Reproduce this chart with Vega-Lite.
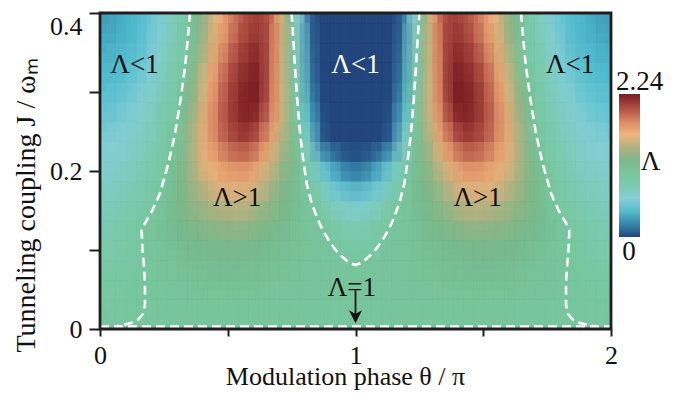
{
"$schema": "https://vega.github.io/schema/vega-lite/v6.json",
"width": 511, "height": 316,
"autosize": {"type": "none"},
"padding": {"left": 100, "top": 13, "right": 68, "bottom": 65},
"background": "white",
"config": {"font": "Liberation Serif", "view": {"stroke": null},
 "axis": {"grid": false, "domain": false, "zindex": 1, "labelColor": "#111", "titleColor": "#111", "titleFontWeight": "normal", "tickWidth": 2, "tickColor": "#1e1e1e", "labelFlush": false, "labelOverlap": false, "labelFontSize": 26, "labelFont": "Liberation Serif", "titleFont": "Liberation Serif"}},
"datasets": {"grid": [
{"t":0.02,"j":0.3875,"v":0.28},{"t":0.06,"j":0.3875,"v":0.30},{"t":0.1,"j":0.3875,"v":0.34},{"t":0.14,"j":0.3875,"v":0.39},{"t":0.18,"j":0.3875,"v":0.47},{"t":0.22,"j":0.3875,"v":0.56},{"t":0.26,"j":0.3875,"v":0.67},{"t":0.3,"j":0.3875,"v":0.80},{"t":0.34,"j":0.3875,"v":0.95},{"t":0.38,"j":0.3875,"v":1.17},{"t":0.42,"j":0.3875,"v":1.40},{"t":0.46,"j":0.3875,"v":1.60},{"t":0.5,"j":0.3875,"v":1.79},{"t":0.54,"j":0.3875,"v":1.94},{"t":0.58,"j":0.3875,"v":2.04},{"t":0.62,"j":0.3875,"v":2.09},{"t":0.66,"j":0.3875,"v":1.99},{"t":0.7,"j":0.3875,"v":1.66},{"t":0.74,"j":0.3875,"v":1.17},{"t":0.78,"j":0.3875,"v":0.60},{"t":0.82,"j":0.3875,"v":0.12},{"t":0.86,"j":0.3875,"v":0},{"t":0.9,"j":0.3875,"v":0},{"t":0.94,"j":0.3875,"v":0},{"t":0.98,"j":0.3875,"v":0},
{"t":1.02,"j":0.3875,"v":0},{"t":1.06,"j":0.3875,"v":0},{"t":1.1,"j":0.3875,"v":0},{"t":1.14,"j":0.3875,"v":0},{"t":1.18,"j":0.3875,"v":0.12},{"t":1.22,"j":0.3875,"v":0.60},{"t":1.26,"j":0.3875,"v":1.17},{"t":1.3,"j":0.3875,"v":1.66},{"t":1.34,"j":0.3875,"v":1.99},{"t":1.38,"j":0.3875,"v":2.09},{"t":1.42,"j":0.3875,"v":2.04},{"t":1.46,"j":0.3875,"v":1.94},{"t":1.5,"j":0.3875,"v":1.79},{"t":1.54,"j":0.3875,"v":1.60},{"t":1.58,"j":0.3875,"v":1.40},{"t":1.62,"j":0.3875,"v":1.17},{"t":1.66,"j":0.3875,"v":0.95},{"t":1.7,"j":0.3875,"v":0.80},{"t":1.74,"j":0.3875,"v":0.67},{"t":1.78,"j":0.3875,"v":0.56},{"t":1.82,"j":0.3875,"v":0.47},{"t":1.86,"j":0.3875,"v":0.39},{"t":1.9,"j":0.3875,"v":0.34},{"t":1.94,"j":0.3875,"v":0.30},{"t":1.98,"j":0.3875,"v":0.28},
{"t":0.02,"j":0.3625,"v":0.32},{"t":0.06,"j":0.3625,"v":0.34},{"t":0.1,"j":0.3625,"v":0.38},{"t":0.14,"j":0.3625,"v":0.43},{"t":0.18,"j":0.3625,"v":0.50},{"t":0.22,"j":0.3625,"v":0.60},{"t":0.26,"j":0.3625,"v":0.71},{"t":0.3,"j":0.3625,"v":0.83},{"t":0.34,"j":0.3625,"v":0.98},{"t":0.38,"j":0.3625,"v":1.22},{"t":0.42,"j":0.3625,"v":1.46},{"t":0.46,"j":0.3625,"v":1.67},{"t":0.5,"j":0.3625,"v":1.86},{"t":0.54,"j":0.3625,"v":2.01},{"t":0.58,"j":0.3625,"v":2.10},{"t":0.62,"j":0.3625,"v":2.15},{"t":0.66,"j":0.3625,"v":1.98},{"t":0.7,"j":0.3625,"v":1.63},{"t":0.74,"j":0.3625,"v":1.17},{"t":0.78,"j":0.3625,"v":0.62},{"t":0.82,"j":0.3625,"v":0.15},{"t":0.86,"j":0.3625,"v":0},{"t":0.9,"j":0.3625,"v":0},{"t":0.94,"j":0.3625,"v":0},{"t":0.98,"j":0.3625,"v":0},
{"t":1.02,"j":0.3625,"v":0},{"t":1.06,"j":0.3625,"v":0},{"t":1.1,"j":0.3625,"v":0},{"t":1.14,"j":0.3625,"v":0},{"t":1.18,"j":0.3625,"v":0.15},{"t":1.22,"j":0.3625,"v":0.62},{"t":1.26,"j":0.3625,"v":1.17},{"t":1.3,"j":0.3625,"v":1.63},{"t":1.34,"j":0.3625,"v":1.98},{"t":1.38,"j":0.3625,"v":2.15},{"t":1.42,"j":0.3625,"v":2.10},{"t":1.46,"j":0.3625,"v":2.01},{"t":1.5,"j":0.3625,"v":1.86},{"t":1.54,"j":0.3625,"v":1.67},{"t":1.58,"j":0.3625,"v":1.46},{"t":1.62,"j":0.3625,"v":1.22},{"t":1.66,"j":0.3625,"v":0.98},{"t":1.7,"j":0.3625,"v":0.83},{"t":1.74,"j":0.3625,"v":0.71},{"t":1.78,"j":0.3625,"v":0.60},{"t":1.82,"j":0.3625,"v":0.50},{"t":1.86,"j":0.3625,"v":0.43},{"t":1.9,"j":0.3625,"v":0.38},{"t":1.94,"j":0.3625,"v":0.34},{"t":1.98,"j":0.3625,"v":0.32},
{"t":0.02,"j":0.3375,"v":0.36},{"t":0.06,"j":0.3375,"v":0.38},{"t":0.1,"j":0.3375,"v":0.42},{"t":0.14,"j":0.3375,"v":0.47},{"t":0.18,"j":0.3375,"v":0.54},{"t":0.22,"j":0.3375,"v":0.63},{"t":0.26,"j":0.3375,"v":0.74},{"t":0.3,"j":0.3375,"v":0.86},{"t":0.34,"j":0.3375,"v":1.00},{"t":0.38,"j":0.3375,"v":1.28},{"t":0.42,"j":0.3375,"v":1.53},{"t":0.46,"j":0.3375,"v":1.76},{"t":0.5,"j":0.3375,"v":1.95},{"t":0.54,"j":0.3375,"v":2.08},{"t":0.58,"j":0.3375,"v":2.16},{"t":0.62,"j":0.3375,"v":2.20},{"t":0.66,"j":0.3375,"v":1.96},{"t":0.7,"j":0.3375,"v":1.64},{"t":0.74,"j":0.3375,"v":1.20},{"t":0.78,"j":0.3375,"v":0.68},{"t":0.82,"j":0.3375,"v":0.18},{"t":0.86,"j":0.3375,"v":0},{"t":0.9,"j":0.3375,"v":0},{"t":0.94,"j":0.3375,"v":0},{"t":0.98,"j":0.3375,"v":0},
{"t":1.02,"j":0.3375,"v":0},{"t":1.06,"j":0.3375,"v":0},{"t":1.1,"j":0.3375,"v":0},{"t":1.14,"j":0.3375,"v":0},{"t":1.18,"j":0.3375,"v":0.18},{"t":1.22,"j":0.3375,"v":0.68},{"t":1.26,"j":0.3375,"v":1.20},{"t":1.3,"j":0.3375,"v":1.64},{"t":1.34,"j":0.3375,"v":1.96},{"t":1.38,"j":0.3375,"v":2.20},{"t":1.42,"j":0.3375,"v":2.16},{"t":1.46,"j":0.3375,"v":2.08},{"t":1.5,"j":0.3375,"v":1.95},{"t":1.54,"j":0.3375,"v":1.76},{"t":1.58,"j":0.3375,"v":1.53},{"t":1.62,"j":0.3375,"v":1.28},{"t":1.66,"j":0.3375,"v":1.00},{"t":1.7,"j":0.3375,"v":0.86},{"t":1.74,"j":0.3375,"v":0.74},{"t":1.78,"j":0.3375,"v":0.63},{"t":1.82,"j":0.3375,"v":0.54},{"t":1.86,"j":0.3375,"v":0.47},{"t":1.9,"j":0.3375,"v":0.42},{"t":1.94,"j":0.3375,"v":0.38},{"t":1.98,"j":0.3375,"v":0.36},
{"t":0.02,"j":0.3125,"v":0.42},{"t":0.06,"j":0.3125,"v":0.44},{"t":0.1,"j":0.3125,"v":0.47},{"t":0.14,"j":0.3125,"v":0.53},{"t":0.18,"j":0.3125,"v":0.59},{"t":0.22,"j":0.3125,"v":0.68},{"t":0.26,"j":0.3125,"v":0.78},{"t":0.3,"j":0.3125,"v":0.91},{"t":0.34,"j":0.3125,"v":1.09},{"t":0.38,"j":0.3125,"v":1.35},{"t":0.42,"j":0.3125,"v":1.60},{"t":0.46,"j":0.3125,"v":1.83},{"t":0.5,"j":0.3125,"v":2.02},{"t":0.54,"j":0.3125,"v":2.14},{"t":0.58,"j":0.3125,"v":2.22},{"t":0.62,"j":0.3125,"v":2.23},{"t":0.66,"j":0.3125,"v":1.95},{"t":0.7,"j":0.3125,"v":1.62},{"t":0.74,"j":0.3125,"v":1.22},{"t":0.78,"j":0.3125,"v":0.72},{"t":0.82,"j":0.3125,"v":0.22},{"t":0.86,"j":0.3125,"v":0},{"t":0.9,"j":0.3125,"v":0},{"t":0.94,"j":0.3125,"v":0},{"t":0.98,"j":0.3125,"v":0},
{"t":1.02,"j":0.3125,"v":0},{"t":1.06,"j":0.3125,"v":0},{"t":1.1,"j":0.3125,"v":0},{"t":1.14,"j":0.3125,"v":0},{"t":1.18,"j":0.3125,"v":0.22},{"t":1.22,"j":0.3125,"v":0.72},{"t":1.26,"j":0.3125,"v":1.22},{"t":1.3,"j":0.3125,"v":1.62},{"t":1.34,"j":0.3125,"v":1.95},{"t":1.38,"j":0.3125,"v":2.23},{"t":1.42,"j":0.3125,"v":2.22},{"t":1.46,"j":0.3125,"v":2.14},{"t":1.5,"j":0.3125,"v":2.02},{"t":1.54,"j":0.3125,"v":1.83},{"t":1.58,"j":0.3125,"v":1.60},{"t":1.62,"j":0.3125,"v":1.35},{"t":1.66,"j":0.3125,"v":1.09},{"t":1.7,"j":0.3125,"v":0.91},{"t":1.74,"j":0.3125,"v":0.78},{"t":1.78,"j":0.3125,"v":0.68},{"t":1.82,"j":0.3125,"v":0.59},{"t":1.86,"j":0.3125,"v":0.53},{"t":1.9,"j":0.3125,"v":0.47},{"t":1.94,"j":0.3125,"v":0.44},{"t":1.98,"j":0.3125,"v":0.42},
{"t":0.02,"j":0.2875,"v":0.48},{"t":0.06,"j":0.2875,"v":0.50},{"t":0.1,"j":0.2875,"v":0.53},{"t":0.14,"j":0.2875,"v":0.58},{"t":0.18,"j":0.2875,"v":0.65},{"t":0.22,"j":0.2875,"v":0.73},{"t":0.26,"j":0.2875,"v":0.83},{"t":0.3,"j":0.2875,"v":0.95},{"t":0.34,"j":0.2875,"v":1.15},{"t":0.38,"j":0.2875,"v":1.41},{"t":0.42,"j":0.2875,"v":1.66},{"t":0.46,"j":0.2875,"v":1.87},{"t":0.5,"j":0.2875,"v":2.04},{"t":0.54,"j":0.2875,"v":2.17},{"t":0.58,"j":0.2875,"v":2.23},{"t":0.62,"j":0.2875,"v":2.22},{"t":0.66,"j":0.2875,"v":1.93},{"t":0.7,"j":0.2875,"v":1.62},{"t":0.74,"j":0.2875,"v":1.25},{"t":0.78,"j":0.2875,"v":0.80},{"t":0.82,"j":0.2875,"v":0.30},{"t":0.86,"j":0.2875,"v":0.02},{"t":0.9,"j":0.2875,"v":0},{"t":0.94,"j":0.2875,"v":0},{"t":0.98,"j":0.2875,"v":0},
{"t":1.02,"j":0.2875,"v":0},{"t":1.06,"j":0.2875,"v":0},{"t":1.1,"j":0.2875,"v":0},{"t":1.14,"j":0.2875,"v":0.02},{"t":1.18,"j":0.2875,"v":0.30},{"t":1.22,"j":0.2875,"v":0.80},{"t":1.26,"j":0.2875,"v":1.25},{"t":1.3,"j":0.2875,"v":1.62},{"t":1.34,"j":0.2875,"v":1.93},{"t":1.38,"j":0.2875,"v":2.22},{"t":1.42,"j":0.2875,"v":2.23},{"t":1.46,"j":0.2875,"v":2.17},{"t":1.5,"j":0.2875,"v":2.04},{"t":1.54,"j":0.2875,"v":1.87},{"t":1.58,"j":0.2875,"v":1.66},{"t":1.62,"j":0.2875,"v":1.41},{"t":1.66,"j":0.2875,"v":1.15},{"t":1.7,"j":0.2875,"v":0.95},{"t":1.74,"j":0.2875,"v":0.83},{"t":1.78,"j":0.2875,"v":0.73},{"t":1.82,"j":0.2875,"v":0.65},{"t":1.86,"j":0.2875,"v":0.58},{"t":1.9,"j":0.2875,"v":0.53},{"t":1.94,"j":0.2875,"v":0.50},{"t":1.98,"j":0.2875,"v":0.48},
{"t":0.02,"j":0.2625,"v":0.53},{"t":0.06,"j":0.2625,"v":0.55},{"t":0.1,"j":0.2625,"v":0.58},{"t":0.14,"j":0.2625,"v":0.63},{"t":0.18,"j":0.2625,"v":0.69},{"t":0.22,"j":0.2625,"v":0.77},{"t":0.26,"j":0.2625,"v":0.87},{"t":0.3,"j":0.2625,"v":0.98},{"t":0.34,"j":0.2625,"v":1.23},{"t":0.38,"j":0.2625,"v":1.48},{"t":0.42,"j":0.2625,"v":1.70},{"t":0.46,"j":0.2625,"v":1.90},{"t":0.5,"j":0.2625,"v":2.06},{"t":0.54,"j":0.2625,"v":2.15},{"t":0.58,"j":0.2625,"v":2.20},{"t":0.62,"j":0.2625,"v":2.08},{"t":0.66,"j":0.2625,"v":1.84},{"t":0.7,"j":0.2625,"v":1.56},{"t":0.74,"j":0.2625,"v":1.24},{"t":0.78,"j":0.2625,"v":0.85},{"t":0.82,"j":0.2625,"v":0.45},{"t":0.86,"j":0.2625,"v":0.08},{"t":0.9,"j":0.2625,"v":0},{"t":0.94,"j":0.2625,"v":0},{"t":0.98,"j":0.2625,"v":0},
{"t":1.02,"j":0.2625,"v":0},{"t":1.06,"j":0.2625,"v":0},{"t":1.1,"j":0.2625,"v":0},{"t":1.14,"j":0.2625,"v":0.08},{"t":1.18,"j":0.2625,"v":0.45},{"t":1.22,"j":0.2625,"v":0.85},{"t":1.26,"j":0.2625,"v":1.24},{"t":1.3,"j":0.2625,"v":1.56},{"t":1.34,"j":0.2625,"v":1.84},{"t":1.38,"j":0.2625,"v":2.08},{"t":1.42,"j":0.2625,"v":2.20},{"t":1.46,"j":0.2625,"v":2.15},{"t":1.5,"j":0.2625,"v":2.06},{"t":1.54,"j":0.2625,"v":1.90},{"t":1.58,"j":0.2625,"v":1.70},{"t":1.62,"j":0.2625,"v":1.48},{"t":1.66,"j":0.2625,"v":1.23},{"t":1.7,"j":0.2625,"v":0.98},{"t":1.74,"j":0.2625,"v":0.87},{"t":1.78,"j":0.2625,"v":0.77},{"t":1.82,"j":0.2625,"v":0.69},{"t":1.86,"j":0.2625,"v":0.63},{"t":1.9,"j":0.2625,"v":0.58},{"t":1.94,"j":0.2625,"v":0.55},{"t":1.98,"j":0.2625,"v":0.53},
{"t":0.02,"j":0.2375,"v":0.58},{"t":0.06,"j":0.2375,"v":0.60},{"t":0.1,"j":0.2375,"v":0.63},{"t":0.14,"j":0.2375,"v":0.68},{"t":0.18,"j":0.2375,"v":0.74},{"t":0.22,"j":0.2375,"v":0.82},{"t":0.26,"j":0.2375,"v":0.92},{"t":0.3,"j":0.2375,"v":1.05},{"t":0.34,"j":0.2375,"v":1.28},{"t":0.38,"j":0.2375,"v":1.49},{"t":0.42,"j":0.2375,"v":1.68},{"t":0.46,"j":0.2375,"v":1.85},{"t":0.5,"j":0.2375,"v":1.96},{"t":0.54,"j":0.2375,"v":2.03},{"t":0.58,"j":0.2375,"v":2.05},{"t":0.62,"j":0.2375,"v":1.90},{"t":0.66,"j":0.2375,"v":1.69},{"t":0.7,"j":0.2375,"v":1.47},{"t":0.74,"j":0.2375,"v":1.23},{"t":0.78,"j":0.2375,"v":0.98},{"t":0.82,"j":0.2375,"v":0.62},{"t":0.86,"j":0.2375,"v":0.12},{"t":0.9,"j":0.2375,"v":0},{"t":0.94,"j":0.2375,"v":0},{"t":0.98,"j":0.2375,"v":0},
{"t":1.02,"j":0.2375,"v":0},{"t":1.06,"j":0.2375,"v":0},{"t":1.1,"j":0.2375,"v":0},{"t":1.14,"j":0.2375,"v":0.12},{"t":1.18,"j":0.2375,"v":0.62},{"t":1.22,"j":0.2375,"v":0.98},{"t":1.26,"j":0.2375,"v":1.23},{"t":1.3,"j":0.2375,"v":1.47},{"t":1.34,"j":0.2375,"v":1.69},{"t":1.38,"j":0.2375,"v":1.90},{"t":1.42,"j":0.2375,"v":2.05},{"t":1.46,"j":0.2375,"v":2.03},{"t":1.5,"j":0.2375,"v":1.96},{"t":1.54,"j":0.2375,"v":1.85},{"t":1.58,"j":0.2375,"v":1.68},{"t":1.62,"j":0.2375,"v":1.49},{"t":1.66,"j":0.2375,"v":1.28},{"t":1.7,"j":0.2375,"v":1.05},{"t":1.74,"j":0.2375,"v":0.92},{"t":1.78,"j":0.2375,"v":0.82},{"t":1.82,"j":0.2375,"v":0.74},{"t":1.86,"j":0.2375,"v":0.68},{"t":1.9,"j":0.2375,"v":0.63},{"t":1.94,"j":0.2375,"v":0.60},{"t":1.98,"j":0.2375,"v":0.58},
{"t":0.02,"j":0.2125,"v":0.62},{"t":0.06,"j":0.2125,"v":0.64},{"t":0.1,"j":0.2125,"v":0.67},{"t":0.14,"j":0.2125,"v":0.72},{"t":0.18,"j":0.2125,"v":0.79},{"t":0.22,"j":0.2125,"v":0.87},{"t":0.26,"j":0.2125,"v":0.97},{"t":0.3,"j":0.2125,"v":1.14},{"t":0.34,"j":0.2125,"v":1.31},{"t":0.38,"j":0.2125,"v":1.48},{"t":0.42,"j":0.2125,"v":1.61},{"t":0.46,"j":0.2125,"v":1.73},{"t":0.5,"j":0.2125,"v":1.81},{"t":0.54,"j":0.2125,"v":1.84},{"t":0.58,"j":0.2125,"v":1.84},{"t":0.62,"j":0.2125,"v":1.70},{"t":0.66,"j":0.2125,"v":1.54},{"t":0.7,"j":0.2125,"v":1.37},{"t":0.74,"j":0.2125,"v":1.20},{"t":0.78,"j":0.2125,"v":1.06},{"t":0.82,"j":0.2125,"v":0.75},{"t":0.86,"j":0.2125,"v":0.50},{"t":0.9,"j":0.2125,"v":0.30},{"t":0.94,"j":0.2125,"v":0.15},{"t":0.98,"j":0.2125,"v":0.08},
{"t":1.02,"j":0.2125,"v":0.08},{"t":1.06,"j":0.2125,"v":0.15},{"t":1.1,"j":0.2125,"v":0.30},{"t":1.14,"j":0.2125,"v":0.50},{"t":1.18,"j":0.2125,"v":0.75},{"t":1.22,"j":0.2125,"v":1.06},{"t":1.26,"j":0.2125,"v":1.20},{"t":1.3,"j":0.2125,"v":1.37},{"t":1.34,"j":0.2125,"v":1.54},{"t":1.38,"j":0.2125,"v":1.70},{"t":1.42,"j":0.2125,"v":1.84},{"t":1.46,"j":0.2125,"v":1.84},{"t":1.5,"j":0.2125,"v":1.81},{"t":1.54,"j":0.2125,"v":1.73},{"t":1.58,"j":0.2125,"v":1.61},{"t":1.62,"j":0.2125,"v":1.48},{"t":1.66,"j":0.2125,"v":1.31},{"t":1.7,"j":0.2125,"v":1.14},{"t":1.74,"j":0.2125,"v":0.97},{"t":1.78,"j":0.2125,"v":0.87},{"t":1.82,"j":0.2125,"v":0.79},{"t":1.86,"j":0.2125,"v":0.72},{"t":1.9,"j":0.2125,"v":0.67},{"t":1.94,"j":0.2125,"v":0.64},{"t":1.98,"j":0.2125,"v":0.62},
{"t":0.02,"j":0.1875,"v":0.67},{"t":0.06,"j":0.1875,"v":0.69},{"t":0.1,"j":0.1875,"v":0.72},{"t":0.14,"j":0.1875,"v":0.77},{"t":0.18,"j":0.1875,"v":0.84},{"t":0.22,"j":0.1875,"v":0.93},{"t":0.26,"j":0.1875,"v":1.03},{"t":0.3,"j":0.1875,"v":1.16},{"t":0.34,"j":0.1875,"v":1.28},{"t":0.38,"j":0.1875,"v":1.40},{"t":0.42,"j":0.1875,"v":1.50},{"t":0.46,"j":0.1875,"v":1.58},{"t":0.5,"j":0.1875,"v":1.63},{"t":0.54,"j":0.1875,"v":1.65},{"t":0.58,"j":0.1875,"v":1.62},{"t":0.62,"j":0.1875,"v":1.52},{"t":0.66,"j":0.1875,"v":1.40},{"t":0.7,"j":0.1875,"v":1.28},{"t":0.74,"j":0.1875,"v":1.17},{"t":0.78,"j":0.1875,"v":1.06},{"t":0.82,"j":0.1875,"v":0.93},{"t":0.86,"j":0.1875,"v":0.72},{"t":0.9,"j":0.1875,"v":0.52},{"t":0.94,"j":0.1875,"v":0.38},{"t":0.98,"j":0.1875,"v":0.30},
{"t":1.02,"j":0.1875,"v":0.30},{"t":1.06,"j":0.1875,"v":0.38},{"t":1.1,"j":0.1875,"v":0.52},{"t":1.14,"j":0.1875,"v":0.72},{"t":1.18,"j":0.1875,"v":0.93},{"t":1.22,"j":0.1875,"v":1.06},{"t":1.26,"j":0.1875,"v":1.17},{"t":1.3,"j":0.1875,"v":1.28},{"t":1.34,"j":0.1875,"v":1.40},{"t":1.38,"j":0.1875,"v":1.52},{"t":1.42,"j":0.1875,"v":1.62},{"t":1.46,"j":0.1875,"v":1.65},{"t":1.5,"j":0.1875,"v":1.63},{"t":1.54,"j":0.1875,"v":1.58},{"t":1.58,"j":0.1875,"v":1.50},{"t":1.62,"j":0.1875,"v":1.40},{"t":1.66,"j":0.1875,"v":1.28},{"t":1.7,"j":0.1875,"v":1.16},{"t":1.74,"j":0.1875,"v":1.03},{"t":1.78,"j":0.1875,"v":0.93},{"t":1.82,"j":0.1875,"v":0.84},{"t":1.86,"j":0.1875,"v":0.77},{"t":1.9,"j":0.1875,"v":0.72},{"t":1.94,"j":0.1875,"v":0.69},{"t":1.98,"j":0.1875,"v":0.67},
{"t":0.02,"j":0.1625,"v":0.72},{"t":0.06,"j":0.1625,"v":0.74},{"t":0.1,"j":0.1625,"v":0.77},{"t":0.14,"j":0.1625,"v":0.83},{"t":0.18,"j":0.1625,"v":0.89},{"t":0.22,"j":0.1625,"v":0.98},{"t":0.26,"j":0.1625,"v":1.07},{"t":0.3,"j":0.1625,"v":1.16},{"t":0.34,"j":0.1625,"v":1.25},{"t":0.38,"j":0.1625,"v":1.33},{"t":0.42,"j":0.1625,"v":1.40},{"t":0.46,"j":0.1625,"v":1.45},{"t":0.5,"j":0.1625,"v":1.48},{"t":0.54,"j":0.1625,"v":1.49},{"t":0.58,"j":0.1625,"v":1.46},{"t":0.62,"j":0.1625,"v":1.39},{"t":0.66,"j":0.1625,"v":1.31},{"t":0.7,"j":0.1625,"v":1.23},{"t":0.74,"j":0.1625,"v":1.15},{"t":0.78,"j":0.1625,"v":1.08},{"t":0.82,"j":0.1625,"v":1.01},{"t":0.86,"j":0.1625,"v":0.86},{"t":0.9,"j":0.1625,"v":0.72},{"t":0.94,"j":0.1625,"v":0.62},{"t":0.98,"j":0.1625,"v":0.57},
{"t":1.02,"j":0.1625,"v":0.57},{"t":1.06,"j":0.1625,"v":0.62},{"t":1.1,"j":0.1625,"v":0.72},{"t":1.14,"j":0.1625,"v":0.86},{"t":1.18,"j":0.1625,"v":1.01},{"t":1.22,"j":0.1625,"v":1.08},{"t":1.26,"j":0.1625,"v":1.15},{"t":1.3,"j":0.1625,"v":1.23},{"t":1.34,"j":0.1625,"v":1.31},{"t":1.38,"j":0.1625,"v":1.39},{"t":1.42,"j":0.1625,"v":1.46},{"t":1.46,"j":0.1625,"v":1.49},{"t":1.5,"j":0.1625,"v":1.48},{"t":1.54,"j":0.1625,"v":1.45},{"t":1.58,"j":0.1625,"v":1.40},{"t":1.62,"j":0.1625,"v":1.33},{"t":1.66,"j":0.1625,"v":1.25},{"t":1.7,"j":0.1625,"v":1.16},{"t":1.74,"j":0.1625,"v":1.07},{"t":1.78,"j":0.1625,"v":0.98},{"t":1.82,"j":0.1625,"v":0.89},{"t":1.86,"j":0.1625,"v":0.83},{"t":1.9,"j":0.1625,"v":0.77},{"t":1.94,"j":0.1625,"v":0.74},{"t":1.98,"j":0.1625,"v":0.72},
{"t":0.02,"j":0.1375,"v":0.77},{"t":0.06,"j":0.1375,"v":0.79},{"t":0.1,"j":0.1375,"v":0.83},{"t":0.14,"j":0.1375,"v":0.89},{"t":0.18,"j":0.1375,"v":0.98},{"t":0.22,"j":0.1375,"v":1.04},{"t":0.26,"j":0.1375,"v":1.10},{"t":0.3,"j":0.1375,"v":1.15},{"t":0.34,"j":0.1375,"v":1.20},{"t":0.38,"j":0.1375,"v":1.25},{"t":0.42,"j":0.1375,"v":1.29},{"t":0.46,"j":0.1375,"v":1.32},{"t":0.5,"j":0.1375,"v":1.34},{"t":0.54,"j":0.1375,"v":1.35},{"t":0.58,"j":0.1375,"v":1.33},{"t":0.62,"j":0.1375,"v":1.28},{"t":0.66,"j":0.1375,"v":1.23},{"t":0.7,"j":0.1375,"v":1.17},{"t":0.74,"j":0.1375,"v":1.11},{"t":0.78,"j":0.1375,"v":1.07},{"t":0.82,"j":0.1375,"v":1.03},{"t":0.86,"j":0.1375,"v":0.99},{"t":0.9,"j":0.1375,"v":0.90},{"t":0.94,"j":0.1375,"v":0.80},{"t":0.98,"j":0.1375,"v":0.74},
{"t":1.02,"j":0.1375,"v":0.74},{"t":1.06,"j":0.1375,"v":0.80},{"t":1.1,"j":0.1375,"v":0.90},{"t":1.14,"j":0.1375,"v":0.99},{"t":1.18,"j":0.1375,"v":1.03},{"t":1.22,"j":0.1375,"v":1.07},{"t":1.26,"j":0.1375,"v":1.11},{"t":1.3,"j":0.1375,"v":1.17},{"t":1.34,"j":0.1375,"v":1.23},{"t":1.38,"j":0.1375,"v":1.28},{"t":1.42,"j":0.1375,"v":1.33},{"t":1.46,"j":0.1375,"v":1.35},{"t":1.5,"j":0.1375,"v":1.34},{"t":1.54,"j":0.1375,"v":1.32},{"t":1.58,"j":0.1375,"v":1.29},{"t":1.62,"j":0.1375,"v":1.25},{"t":1.66,"j":0.1375,"v":1.20},{"t":1.7,"j":0.1375,"v":1.15},{"t":1.74,"j":0.1375,"v":1.10},{"t":1.78,"j":0.1375,"v":1.04},{"t":1.82,"j":0.1375,"v":0.98},{"t":1.86,"j":0.1375,"v":0.89},{"t":1.9,"j":0.1375,"v":0.83},{"t":1.94,"j":0.1375,"v":0.79},{"t":1.98,"j":0.1375,"v":0.77},
{"t":0.02,"j":0.1125,"v":0.82},{"t":0.06,"j":0.1125,"v":0.84},{"t":0.1,"j":0.1125,"v":0.88},{"t":0.14,"j":0.1125,"v":0.94},{"t":0.18,"j":0.1125,"v":1.01},{"t":0.22,"j":0.1125,"v":1.04},{"t":0.26,"j":0.1125,"v":1.08},{"t":0.3,"j":0.1125,"v":1.11},{"t":0.34,"j":0.1125,"v":1.14},{"t":0.38,"j":0.1125,"v":1.16},{"t":0.42,"j":0.1125,"v":1.18},{"t":0.46,"j":0.1125,"v":1.19},{"t":0.5,"j":0.1125,"v":1.20},{"t":0.54,"j":0.1125,"v":1.20},{"t":0.58,"j":0.1125,"v":1.18},{"t":0.62,"j":0.1125,"v":1.16},{"t":0.66,"j":0.1125,"v":1.14},{"t":0.7,"j":0.1125,"v":1.11},{"t":0.74,"j":0.1125,"v":1.09},{"t":0.78,"j":0.1125,"v":1.06},{"t":0.82,"j":0.1125,"v":1.04},{"t":0.86,"j":0.1125,"v":1.02},{"t":0.9,"j":0.1125,"v":0.99},{"t":0.94,"j":0.1125,"v":0.93},{"t":0.98,"j":0.1125,"v":0.87},
{"t":1.02,"j":0.1125,"v":0.87},{"t":1.06,"j":0.1125,"v":0.93},{"t":1.1,"j":0.1125,"v":0.99},{"t":1.14,"j":0.1125,"v":1.02},{"t":1.18,"j":0.1125,"v":1.04},{"t":1.22,"j":0.1125,"v":1.06},{"t":1.26,"j":0.1125,"v":1.09},{"t":1.3,"j":0.1125,"v":1.11},{"t":1.34,"j":0.1125,"v":1.14},{"t":1.38,"j":0.1125,"v":1.16},{"t":1.42,"j":0.1125,"v":1.18},{"t":1.46,"j":0.1125,"v":1.20},{"t":1.5,"j":0.1125,"v":1.20},{"t":1.54,"j":0.1125,"v":1.19},{"t":1.58,"j":0.1125,"v":1.18},{"t":1.62,"j":0.1125,"v":1.16},{"t":1.66,"j":0.1125,"v":1.14},{"t":1.7,"j":0.1125,"v":1.11},{"t":1.74,"j":0.1125,"v":1.08},{"t":1.78,"j":0.1125,"v":1.04},{"t":1.82,"j":0.1125,"v":1.01},{"t":1.86,"j":0.1125,"v":0.94},{"t":1.9,"j":0.1125,"v":0.88},{"t":1.94,"j":0.1125,"v":0.84},{"t":1.98,"j":0.1125,"v":0.82},
{"t":0.02,"j":0.0875,"v":0.87},{"t":0.06,"j":0.0875,"v":0.89},{"t":0.1,"j":0.0875,"v":0.91},{"t":0.14,"j":0.0875,"v":0.95},{"t":0.18,"j":0.0875,"v":1.00},{"t":0.22,"j":0.0875,"v":1.03},{"t":0.26,"j":0.0875,"v":1.05},{"t":0.3,"j":0.0875,"v":1.07},{"t":0.34,"j":0.0875,"v":1.09},{"t":0.38,"j":0.0875,"v":1.11},{"t":0.42,"j":0.0875,"v":1.12},{"t":0.46,"j":0.0875,"v":1.13},{"t":0.5,"j":0.0875,"v":1.13},{"t":0.54,"j":0.0875,"v":1.13},{"t":0.58,"j":0.0875,"v":1.12},{"t":0.62,"j":0.0875,"v":1.11},{"t":0.66,"j":0.0875,"v":1.10},{"t":0.7,"j":0.0875,"v":1.08},{"t":0.74,"j":0.0875,"v":1.07},{"t":0.78,"j":0.0875,"v":1.06},{"t":0.82,"j":0.0875,"v":1.04},{"t":0.86,"j":0.0875,"v":1.03},{"t":0.9,"j":0.0875,"v":1.02},{"t":0.94,"j":0.0875,"v":1.00},{"t":0.98,"j":0.0875,"v":0.98},
{"t":1.02,"j":0.0875,"v":0.98},{"t":1.06,"j":0.0875,"v":1.00},{"t":1.1,"j":0.0875,"v":1.02},{"t":1.14,"j":0.0875,"v":1.03},{"t":1.18,"j":0.0875,"v":1.04},{"t":1.22,"j":0.0875,"v":1.06},{"t":1.26,"j":0.0875,"v":1.07},{"t":1.3,"j":0.0875,"v":1.08},{"t":1.34,"j":0.0875,"v":1.10},{"t":1.38,"j":0.0875,"v":1.11},{"t":1.42,"j":0.0875,"v":1.12},{"t":1.46,"j":0.0875,"v":1.13},{"t":1.5,"j":0.0875,"v":1.13},{"t":1.54,"j":0.0875,"v":1.13},{"t":1.58,"j":0.0875,"v":1.12},{"t":1.62,"j":0.0875,"v":1.11},{"t":1.66,"j":0.0875,"v":1.09},{"t":1.7,"j":0.0875,"v":1.07},{"t":1.74,"j":0.0875,"v":1.05},{"t":1.78,"j":0.0875,"v":1.03},{"t":1.82,"j":0.0875,"v":1.00},{"t":1.86,"j":0.0875,"v":0.95},{"t":1.9,"j":0.0875,"v":0.91},{"t":1.94,"j":0.0875,"v":0.89},{"t":1.98,"j":0.0875,"v":0.87},
{"t":0.02,"j":0.0625,"v":0.92},{"t":0.06,"j":0.0625,"v":0.93},{"t":0.1,"j":0.0625,"v":0.95},{"t":0.14,"j":0.0625,"v":0.97},{"t":0.18,"j":0.0625,"v":1.00},{"t":0.22,"j":0.0625,"v":1.02},{"t":0.26,"j":0.0625,"v":1.04},{"t":0.3,"j":0.0625,"v":1.05},{"t":0.34,"j":0.0625,"v":1.06},{"t":0.38,"j":0.0625,"v":1.07},{"t":0.42,"j":0.0625,"v":1.08},{"t":0.46,"j":0.0625,"v":1.08},{"t":0.5,"j":0.0625,"v":1.08},{"t":0.54,"j":0.0625,"v":1.08},{"t":0.58,"j":0.0625,"v":1.08},{"t":0.62,"j":0.0625,"v":1.07},{"t":0.66,"j":0.0625,"v":1.07},{"t":0.7,"j":0.0625,"v":1.06},{"t":0.74,"j":0.0625,"v":1.05},{"t":0.78,"j":0.0625,"v":1.05},{"t":0.82,"j":0.0625,"v":1.04},{"t":0.86,"j":0.0625,"v":1.03},{"t":0.9,"j":0.0625,"v":1.03},{"t":0.94,"j":0.0625,"v":1.02},{"t":0.98,"j":0.0625,"v":1.02},
{"t":1.02,"j":0.0625,"v":1.02},{"t":1.06,"j":0.0625,"v":1.02},{"t":1.1,"j":0.0625,"v":1.03},{"t":1.14,"j":0.0625,"v":1.03},{"t":1.18,"j":0.0625,"v":1.04},{"t":1.22,"j":0.0625,"v":1.05},{"t":1.26,"j":0.0625,"v":1.05},{"t":1.3,"j":0.0625,"v":1.06},{"t":1.34,"j":0.0625,"v":1.07},{"t":1.38,"j":0.0625,"v":1.07},{"t":1.42,"j":0.0625,"v":1.08},{"t":1.46,"j":0.0625,"v":1.08},{"t":1.5,"j":0.0625,"v":1.08},{"t":1.54,"j":0.0625,"v":1.08},{"t":1.58,"j":0.0625,"v":1.08},{"t":1.62,"j":0.0625,"v":1.07},{"t":1.66,"j":0.0625,"v":1.06},{"t":1.7,"j":0.0625,"v":1.05},{"t":1.74,"j":0.0625,"v":1.04},{"t":1.78,"j":0.0625,"v":1.02},{"t":1.82,"j":0.0625,"v":1.00},{"t":1.86,"j":0.0625,"v":0.97},{"t":1.9,"j":0.0625,"v":0.95},{"t":1.94,"j":0.0625,"v":0.93},{"t":1.98,"j":0.0625,"v":0.92},
{"t":0.02,"j":0.0375,"v":0.96},{"t":0.06,"j":0.0375,"v":0.97},{"t":0.1,"j":0.0375,"v":0.98},{"t":0.14,"j":0.0375,"v":0.99},{"t":0.18,"j":0.0375,"v":1.00},{"t":0.22,"j":0.0375,"v":1.01},{"t":0.26,"j":0.0375,"v":1.02},{"t":0.3,"j":0.0375,"v":1.02},{"t":0.34,"j":0.0375,"v":1.03},{"t":0.38,"j":0.0375,"v":1.04},{"t":0.42,"j":0.0375,"v":1.04},{"t":0.46,"j":0.0375,"v":1.04},{"t":0.5,"j":0.0375,"v":1.04},{"t":0.54,"j":0.0375,"v":1.04},{"t":0.58,"j":0.0375,"v":1.04},{"t":0.62,"j":0.0375,"v":1.04},{"t":0.66,"j":0.0375,"v":1.03},{"t":0.7,"j":0.0375,"v":1.03},{"t":0.74,"j":0.0375,"v":1.03},{"t":0.78,"j":0.0375,"v":1.02},{"t":0.82,"j":0.0375,"v":1.02},{"t":0.86,"j":0.0375,"v":1.02},{"t":0.9,"j":0.0375,"v":1.01},{"t":0.94,"j":0.0375,"v":1.01},{"t":0.98,"j":0.0375,"v":1.01},
{"t":1.02,"j":0.0375,"v":1.01},{"t":1.06,"j":0.0375,"v":1.01},{"t":1.1,"j":0.0375,"v":1.01},{"t":1.14,"j":0.0375,"v":1.02},{"t":1.18,"j":0.0375,"v":1.02},{"t":1.22,"j":0.0375,"v":1.02},{"t":1.26,"j":0.0375,"v":1.03},{"t":1.3,"j":0.0375,"v":1.03},{"t":1.34,"j":0.0375,"v":1.03},{"t":1.38,"j":0.0375,"v":1.04},{"t":1.42,"j":0.0375,"v":1.04},{"t":1.46,"j":0.0375,"v":1.04},{"t":1.5,"j":0.0375,"v":1.04},{"t":1.54,"j":0.0375,"v":1.04},{"t":1.58,"j":0.0375,"v":1.04},{"t":1.62,"j":0.0375,"v":1.04},{"t":1.66,"j":0.0375,"v":1.03},{"t":1.7,"j":0.0375,"v":1.02},{"t":1.74,"j":0.0375,"v":1.02},{"t":1.78,"j":0.0375,"v":1.01},{"t":1.82,"j":0.0375,"v":1.00},{"t":1.86,"j":0.0375,"v":0.99},{"t":1.9,"j":0.0375,"v":0.98},{"t":1.94,"j":0.0375,"v":0.97},{"t":1.98,"j":0.0375,"v":0.96},
{"t":0.02,"j":0.0125,"v":0.99},{"t":0.06,"j":0.0125,"v":0.99},{"t":0.1,"j":0.0125,"v":1.00},{"t":0.14,"j":0.0125,"v":1.00},{"t":0.18,"j":0.0125,"v":1.00},{"t":0.22,"j":0.0125,"v":1.00},{"t":0.26,"j":0.0125,"v":1.00},{"t":0.3,"j":0.0125,"v":1.00},{"t":0.34,"j":0.0125,"v":1.00},{"t":0.38,"j":0.0125,"v":1.01},{"t":0.42,"j":0.0125,"v":1.01},{"t":0.46,"j":0.0125,"v":1.01},{"t":0.5,"j":0.0125,"v":1.01},{"t":0.54,"j":0.0125,"v":1.01},{"t":0.58,"j":0.0125,"v":1.01},{"t":0.62,"j":0.0125,"v":1.01},{"t":0.66,"j":0.0125,"v":1.01},{"t":0.7,"j":0.0125,"v":1.01},{"t":0.74,"j":0.0125,"v":1.01},{"t":0.78,"j":0.0125,"v":1.00},{"t":0.82,"j":0.0125,"v":1.00},{"t":0.86,"j":0.0125,"v":1.00},{"t":0.9,"j":0.0125,"v":1.00},{"t":0.94,"j":0.0125,"v":1.00},{"t":0.98,"j":0.0125,"v":1.00},
{"t":1.02,"j":0.0125,"v":1.00},{"t":1.06,"j":0.0125,"v":1.00},{"t":1.1,"j":0.0125,"v":1.00},{"t":1.14,"j":0.0125,"v":1.00},{"t":1.18,"j":0.0125,"v":1.00},{"t":1.22,"j":0.0125,"v":1.00},{"t":1.26,"j":0.0125,"v":1.01},{"t":1.3,"j":0.0125,"v":1.01},{"t":1.34,"j":0.0125,"v":1.01},{"t":1.38,"j":0.0125,"v":1.01},{"t":1.42,"j":0.0125,"v":1.01},{"t":1.46,"j":0.0125,"v":1.01},{"t":1.5,"j":0.0125,"v":1.01},{"t":1.54,"j":0.0125,"v":1.01},{"t":1.58,"j":0.0125,"v":1.01},{"t":1.62,"j":0.0125,"v":1.01},{"t":1.66,"j":0.0125,"v":1.00},{"t":1.7,"j":0.0125,"v":1.00},{"t":1.74,"j":0.0125,"v":1.00},{"t":1.78,"j":0.0125,"v":1.00},{"t":1.82,"j":0.0125,"v":1.00},{"t":1.86,"j":0.0125,"v":1.00},{"t":1.9,"j":0.0125,"v":1.00},{"t":1.94,"j":0.0125,"v":0.99},{"t":1.98,"j":0.0125,"v":0.99}
]},
"layer": [
{
"data": {"name": "grid"},
"mark": {"type": "rect", "stroke": {"expr": "scale('color', datum.v)"}, "strokeWidth": 0.7},
"encoding": {
"x": {"field": "t", "type": "quantitative", "bin": {"step": 0.04, "extent": [0, 2]}, "title": "Modulation phase θ / π",
 "scale": {"domain": [0, 2], "nice": false, "zero": false},
 "axis": {"values": [0, 0.5, 1, 1.5, 2], "labelExpr": "datum.value == 0 ? '0' : datum.value == 1 ? '1' : datum.value == 2 ? '2' : ''",
  "titleFontSize": 26, "titleX": 245, "titleY": 55, "titleBaseline": "alphabetic",
  "labelPadding": 6, "tickSize": 7}},
"y": {"field": "j", "type": "quantitative", "bin": {"step": 0.025, "extent": [0, 0.4]}, "title": "Tunneling coupling  J / ωₘ",
 "scale": {"domain": [0, 0.4], "nice": false, "zero": false},
 "axis": {"values": [0, 0.1, 0.2, 0.3, 0.4], "labelExpr": "datum.value == 0 ? '0' : datum.value == 0.2 ? '0.2' : datum.value == 0.4 ? '0.4' : ''",
  "titleFontSize": 28, "titleX": -66, "titleY": 192, "titleBaseline": "alphabetic",
  "labelPadding": 7, "tickSize": 11,
  "labelBaseline": {"expr": "datum.value >= 0.39 ? 'top' : 'middle'"}}},
"color": {"field": "v", "type": "quantitative",
 "scale": {"type": "linear", "interpolate": "rgb", "zero": false, "nice": false,
  "domain": [0, 0.1, 0.22, 0.35, 0.48, 0.6, 0.75, 0.9, 1.05, 1.15, 1.3, 1.45, 1.6, 1.75, 1.9, 2.05, 2.24],
  "range": ["#23467e", "#2a5f93", "#3a8db0", "#4cb6cb", "#5fc3d2", "#86cfd6", "#7ccbb8", "#7acaa6", "#78c49a", "#76b98d", "#92b686", "#bdb07f", "#f2b57c", "#e49a6c", "#c8705a", "#a8443c", "#7a1d23"]},
 "legend": {"type": "gradient", "orient": "none", "legendX": 519, "legendY": 81, "direction": "vertical", "gradientLength": 143, "gradientThickness": 21, "gradientStrokeWidth": 0, "padding": 0, "title": null,
  "values": [-0.449, 1.18, 2.637], "labelExpr": "datum.value > 2 ? '2.24' : datum.value < 0 ? '0' : 'Λ'",
  "labelFontSize": 27, "labelFont": "Liberation Serif", "labelColor": "#111", "labelOverlap": false,
  "labelOffset": {"expr": "datum.value > 2 ? -24 : datum.value < 0 ? -17.7 : 0.7"}}}
}
},
{
"data": {"name": "grid"},
"mark": {"type": "rect", "fill": {"expr": "scale('color', datum.v)"}, "opacity": 0.5, "clip": true, "xOffset": 5.11, "x2Offset": 5.11, "yOffset": 9.875, "y2Offset": 9.875},
"encoding": {
"x": {"field": "t", "type": "quantitative", "bin": {"step": 0.04, "extent": [0, 2]}, "title": "Modulation phase θ / π"},
"y": {"field": "j", "type": "quantitative", "bin": {"step": 0.025, "extent": [0, 0.4]}, "title": "Tunneling coupling  J / ωₘ"}
}
},
{
"data": {"name": "grid"},
"mark": {"type": "rect", "fill": {"expr": "scale('color', datum.v)"}, "opacity": 0.3333, "clip": true, "xOffset": -5.11, "x2Offset": -5.11, "yOffset": -9.875, "y2Offset": -9.875},
"encoding": {
"x": {"field": "t", "type": "quantitative", "bin": {"step": 0.04, "extent": [0, 2]}, "title": "Modulation phase θ / π"},
"y": {"field": "j", "type": "quantitative", "bin": {"step": 0.025, "extent": [0, 0.4]}, "title": "Tunneling coupling  J / ωₘ"}
}
},
{
"data": {"name": "grid"},
"mark": {"type": "rect", "fill": {"expr": "scale('color', datum.v)"}, "opacity": 0.25, "clip": true, "xOffset": 5.11, "x2Offset": 5.11, "yOffset": -9.875, "y2Offset": -9.875},
"encoding": {
"x": {"field": "t", "type": "quantitative", "bin": {"step": 0.04, "extent": [0, 2]}, "title": "Modulation phase θ / π"},
"y": {"field": "j", "type": "quantitative", "bin": {"step": 0.025, "extent": [0, 0.4]}, "title": "Tunneling coupling  J / ωₘ"}
}
},
{
"data": {"name": "grid"},
"mark": {"type": "rect", "fill": {"expr": "scale('color', datum.v)"}, "opacity": 0.2, "clip": true, "xOffset": -5.11, "x2Offset": -5.11, "yOffset": 9.875, "y2Offset": 9.875},
"encoding": {
"x": {"field": "t", "type": "quantitative", "bin": {"step": 0.04, "extent": [0, 2]}, "title": "Modulation phase θ / π"},
"y": {"field": "j", "type": "quantitative", "bin": {"step": 0.025, "extent": [0, 0.4]}, "title": "Tunneling coupling  J / ωₘ"}
}
},
{
"data": {"values": [
{"c":"u","o":1,"t":0.75,"j":0.4},{"c":"u","o":2,"t":0.757,"j":0.365},{"c":"u","o":3,"t":0.763,"j":0.332},{"c":"u","o":4,"t":0.772,"j":0.29},{"c":"u","o":5,"t":0.783,"j":0.248},{"c":"u","o":6,"t":0.795,"j":0.215},{"c":"u","o":7,"t":0.809,"j":0.184},{"c":"u","o":8,"t":0.826,"j":0.162},{"c":"u","o":9,"t":0.848,"j":0.142},{"c":"u","o":10,"t":0.87,"j":0.126},{"c":"u","o":11,"t":0.894,"j":0.113},{"c":"u","o":12,"t":0.92,"j":0.101},{"c":"u","o":13,"t":0.946,"j":0.092},{"c":"u","o":14,"t":0.975,"j":0.084},{"c":"u","o":15,"t":1.0,"j":0.081},{"c":"u","o":16,"t":1.025,"j":0.084},{"c":"u","o":17,"t":1.054,"j":0.092},{"c":"u","o":18,"t":1.08,"j":0.101},{"c":"u","o":19,"t":1.106,"j":0.113},{"c":"u","o":20,"t":1.13,"j":0.126},{"c":"u","o":21,"t":1.152,"j":0.142},{"c":"u","o":22,"t":1.174,"j":0.162},{"c":"u","o":23,"t":1.191,"j":0.184},{"c":"u","o":24,"t":1.205,"j":0.215},{"c":"u","o":25,"t":1.217,"j":0.248},{"c":"u","o":26,"t":1.228,"j":0.29},{"c":"u","o":27,"t":1.237,"j":0.332},{"c":"u","o":28,"t":1.243,"j":0.365},{"c":"u","o":29,"t":1.25,"j":0.4},
{"c":"a","o":1,"t":0.352,"j":0.4},{"c":"a","o":2,"t":0.343,"j":0.365},{"c":"a","o":3,"t":0.333,"j":0.332},{"c":"a","o":4,"t":0.315,"j":0.29},{"c":"a","o":5,"t":0.294,"j":0.248},{"c":"a","o":6,"t":0.268,"j":0.21},{"c":"a","o":7,"t":0.235,"j":0.172},{"c":"a","o":8,"t":0.205,"j":0.15},{"c":"a","o":9,"t":0.176,"j":0.134},{"c":"a","o":10,"t":0.163,"j":0.125},{"c":"a","o":11,"t":0.166,"j":0.1},{"c":"a","o":12,"t":0.172,"j":0.08},{"c":"a","o":13,"t":0.176,"j":0.058},{"c":"a","o":14,"t":0.176,"j":0.03},{"c":"a","o":15,"t":0.168,"j":0.019},{"c":"a","o":16,"t":0.15,"j":0.012},{"c":"a","o":17,"t":0.124,"j":0.008},{"c":"a","o":18,"t":0.09,"j":0.005},{"c":"a","o":19,"t":0.059,"j":0.003},
{"c":"b","o":1,"t":1.648,"j":0.4},{"c":"b","o":2,"t":1.657,"j":0.365},{"c":"b","o":3,"t":1.667,"j":0.332},{"c":"b","o":4,"t":1.685,"j":0.29},{"c":"b","o":5,"t":1.706,"j":0.248},{"c":"b","o":6,"t":1.732,"j":0.21},{"c":"b","o":7,"t":1.765,"j":0.172},{"c":"b","o":8,"t":1.795,"j":0.15},{"c":"b","o":9,"t":1.824,"j":0.134},{"c":"b","o":10,"t":1.837,"j":0.125},{"c":"b","o":11,"t":1.834,"j":0.1},{"c":"b","o":12,"t":1.828,"j":0.08},{"c":"b","o":13,"t":1.824,"j":0.058},{"c":"b","o":14,"t":1.824,"j":0.03},{"c":"b","o":15,"t":1.832,"j":0.019},{"c":"b","o":16,"t":1.85,"j":0.012},{"c":"b","o":17,"t":1.876,"j":0.008},{"c":"b","o":18,"t":1.91,"j":0.005},{"c":"b","o":19,"t":1.941,"j":0.003},
{"c":"z","o":1,"t":0,"j":0.003},{"c":"z","o":2,"t":2,"j":0.003}
]},
"mark": {"type": "line", "stroke": "white", "strokeWidth": 2.6, "strokeDash": [9, 5], "interpolate": "linear"},
"encoding": {
"x": {"field": "t", "type": "quantitative", "title": "Modulation phase θ / π"},
"y": {"field": "j", "type": "quantitative", "title": "Tunneling coupling  J / ωₘ"},
"detail": {"field": "c", "type": "nominal"},
"order": {"field": "o", "type": "quantitative"}
}
},
{
"data": {"values": [{"t": 0, "t2": 2, "j": 0, "j2": 0.4}]},
"mark": {"type": "rect", "filled": false, "stroke": "#1e1e1e", "strokeWidth": 2.8},
"encoding": {
"x": {"field": "t", "type": "quantitative", "title": "Modulation phase θ / π"},
"x2": {"field": "t2"},
"y": {"field": "j", "type": "quantitative", "title": "Tunneling coupling  J / ωₘ"},
"y2": {"field": "j2"}
}
},
{
"data": {"values": [
{"t": 0.135, "j": 0.3237, "s": "Λ<1", "c": "#111111"},
{"t": 1.0, "j": 0.3237, "s": "Λ<1", "c": "#ffffff"},
{"t": 1.84, "j": 0.3237, "s": "Λ<1", "c": "#111111"},
{"t": 0.537, "j": 0.1557, "s": "Λ>1", "c": "#111111"},
{"t": 1.478, "j": 0.1557, "s": "Λ>1", "c": "#111111"},
{"t": 0.986, "j": 0.0422, "s": "Λ=1", "c": "#111111"}
]},
"mark": {"type": "text", "fontSize": 27, "font": "Liberation Serif", "align": "center", "baseline": "alphabetic"},
"encoding": {
"x": {"field": "t", "type": "quantitative", "title": "Modulation phase θ / π"},
"y": {"field": "j", "type": "quantitative", "title": "Tunneling coupling  J / ωₘ"},
"text": {"field": "s", "type": "nominal"},
"fill": {"field": "c", "type": "nominal", "scale": null, "legend": null}
}
},
{
"data": {"values": [{"t": 1.0, "j": 0.049, "j2": 0.011}]},
"mark": {"type": "rule", "stroke": "#111111", "strokeWidth": 1.8},
"encoding": {
"x": {"field": "t", "type": "quantitative", "title": "Modulation phase θ / π"},
"y": {"field": "j", "type": "quantitative", "title": "Tunneling coupling  J / ωₘ"},
"y2": {"field": "j2"}
}
},
{
"data": {"values": [{"t": 1.0, "j": 0.0154}]},
"mark": {"type": "point", "shape": "M-1,-1L0,1L1,-1L0,-0.45Z", "filled": true, "fill": "#111111", "strokeWidth": 0, "size": 169, "opacity": 1},
"encoding": {
"x": {"field": "t", "type": "quantitative", "title": "Modulation phase θ / π"},
"y": {"field": "j", "type": "quantitative", "title": "Tunneling coupling  J / ωₘ"}
}
}
]
}
